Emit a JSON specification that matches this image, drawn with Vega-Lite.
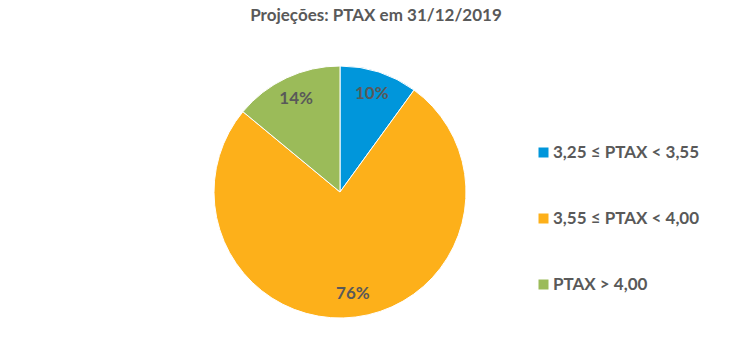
{
  "$schema": "https://vega.github.io/schema/vega-lite/v6.json",
  "width": 680,
  "height": 312,
  "autosize": "none",
  "padding": {"left": 0, "top": 36, "right": 73, "bottom": 12},
  "background": "white",
  "title": {
    "text": "Projeções: PTAX em 31/12/2019",
    "font": "Lato",
    "fontSize": 17,
    "fontWeight": "bold",
    "color": "#595959",
    "anchor": "middle",
    "dx": 36,
    "offset": 11
  },
  "data": {
    "values": [
      {"faixa": "3,25 ≤ PTAX < 3,55", "pct": 10, "ordem": 1, "rotulo": "10%"},
      {"faixa": "3,55 ≤ PTAX < 4,00", "pct": 76, "ordem": 2, "rotulo": "76%"},
      {"faixa": "PTAX > 4,00", "pct": 14, "ordem": 3, "rotulo": "14%"}
    ]
  },
  "encoding": {
    "theta": {"field": "pct", "type": "quantitative", "stack": true},
    "order": {"field": "ordem", "type": "quantitative"}
  },
  "layer": [
    {
      "mark": {"type": "arc", "outerRadius": 126, "stroke": "white", "strokeWidth": 1},
      "encoding": {
        "color": {
          "field": "faixa",
          "type": "nominal",
          "scale": {
            "domain": ["3,25 ≤ PTAX < 3,55", "3,55 ≤ PTAX < 4,00", "PTAX > 4,00"],
            "range": ["#0096DB", "#FDB01A", "#9BBB59"]
          },
          "legend": {
            "title": null,
            "orient": "none",
            "legendX": 535,
            "legendY": 108,
            "padding": 0,
            "symbolType": "square",
            "symbolSize": 100,
            "symbolStrokeWidth": 0,
            "labelFont": "Lato",
            "labelFontSize": 17,
            "labelFontWeight": "bold",
            "labelColor": "#595959",
            "labelOffset": 1,
            "rowPadding": 48
          }
        }
      }
    },
    {
      "mark": {
        "type": "text",
        "radius": 103,
        "font": "Lato",
        "fontSize": 17,
        "fontWeight": "bold",
        "color": "#595959"
      },
      "encoding": {
        "text": {"field": "rotulo", "type": "nominal"}
      }
    }
  ]
}
